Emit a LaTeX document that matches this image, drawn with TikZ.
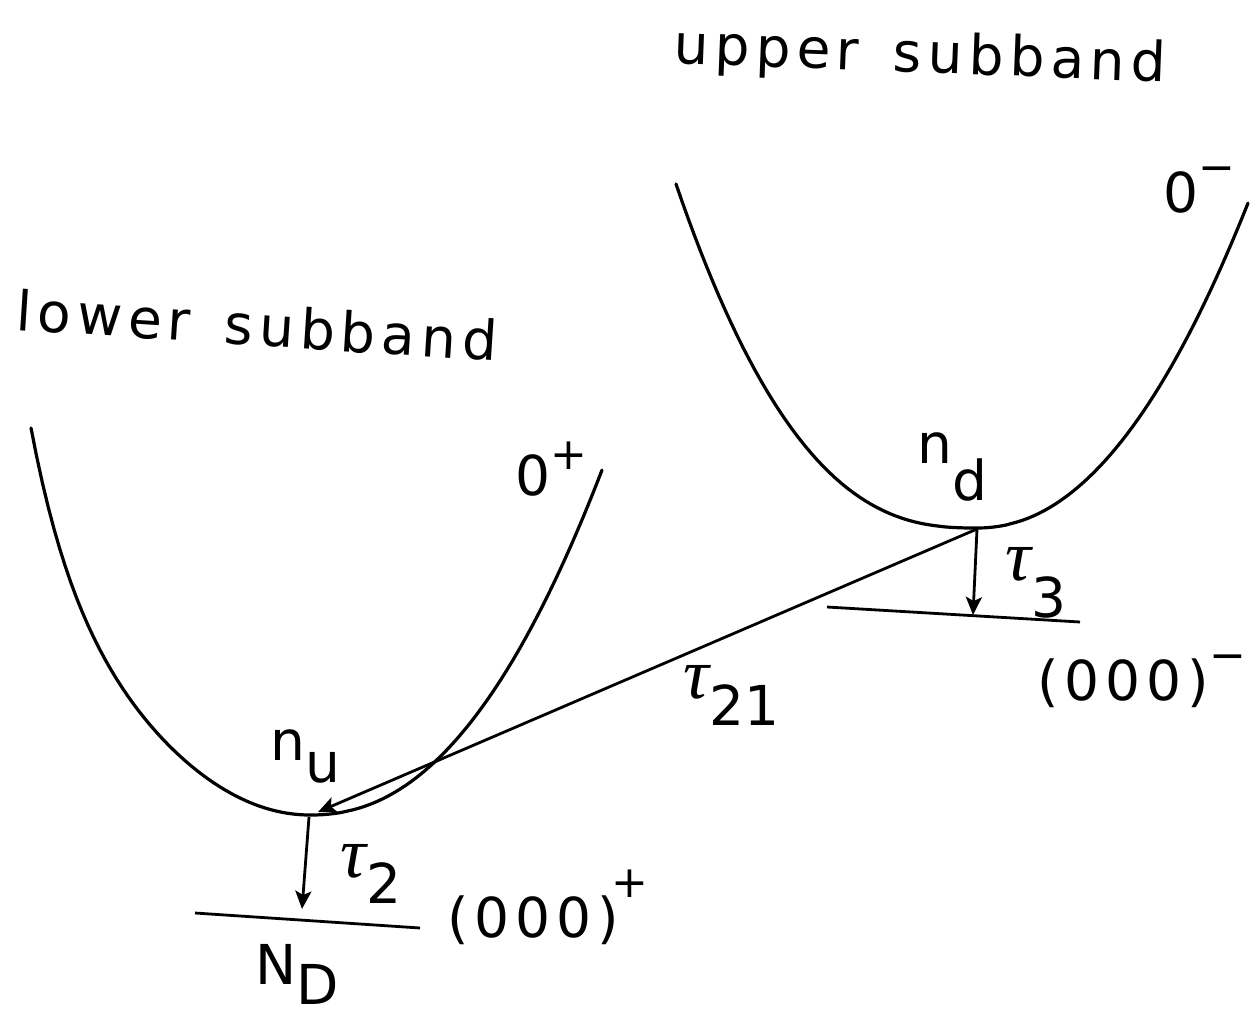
\documentclass[tikz,border=0pt]{standalone}
\usepackage{fontspec}
\setmainfont{DejaVu Sans}[LetterSpace=11, WordSpace=1.45]
\newfontfamily\taufont{Liberation Serif}
\usetikzlibrary{arrows.meta}
\newcommand\tauc{{\taufont\fontsize{36}{36}\selectfont\itshape τ}}
\newcommand\dnb[2]{\raisebox{-#1}{#2}}
\newcommand\upb[2]{\raisebox{#1}{\fontsize{22}{22}\selectfont #2}}
\tikzset{
  lab/.style={inner sep=0pt, anchor=base west, font=\fontsize{27.5}{30}\selectfont},
  curve/.style={line width=1.6pt, line cap=round, line join=round},
  bar/.style={line width=1.4pt},
  arr/.style={line width=1.4pt, -{Stealth[length=9pt,width=8pt,inset=2pt]}}
}
\begin{document}
\begin{tikzpicture}[x=0.5pt,y=-0.5pt]
\useasboundingbox (0,0) rectangle (1252,1017);
% lower subband curve (vertex at 310,815)
\draw[curve] plot[domain=1:0, samples=50] ({310-279*\x},{815-270*\x*\x-117*\x^8})
  -- plot[domain=0.004:1, samples=50] ({310+292*\x},{815-345*pow(\x,2.2)});
% upper subband curve (vertex at 977,528)
\draw[curve] plot[domain=1:0.004, samples=50] ({977-301*\x},{528-344*pow(\x,2.56)})
  -- plot[domain=0.004:1, samples=50] ({977+271*\x},{528-325*pow(\x,2.1)});
% key points
\coordinate (umin) at (977,529);
\coordinate (lmin) at (318,812);
\coordinate (lstart) at (309,817);
\coordinate (lhit) at (302,909);
\coordinate (uhit) at (973,615);
\coordinate (lb1) at (195,913);
\coordinate (lb2) at (420,928);
\coordinate (ub1) at (827,607);
\coordinate (ub2) at (1080,622);
% levels
\draw[bar] (lb1) -- (lb2);
\draw[bar] (ub1) -- (ub2);
% transitions
\draw[arr] (umin) -- (lmin);
\draw[arr] (lstart) -- (lhit);
\draw[arr] (umin) -- (uhit);
% labels
\node[lab, rotate=-2.2] (upper) at (673,63) {upper subband};
\node[lab, rotate=-3.7] (lower) at (15,330) {lower subband};
\node[lab] (zp) at (515,495) {0\upb{13pt}{+}};
\node[lab] (zm) at (1163,212) {0\upb{15pt}{−}};
\node[lab] (nd) at (917,463) {n\dnb{18.5pt}{d}};
\node[lab] (t3) at (1005,580) {\tauc\dnb{18.5pt}{3}};
\node[lab] (ocm) at (1037,700) {(000)\upb{15pt}{−}};
\node[lab] (t21) at (683,698) {\tauc\dnb{13.5pt}{\addfontfeature{LetterSpace=0}21}};
\node[lab] (nu) at (270,760) {n\dnb{11pt}{u}};
\node[lab] (t2) at (340,877) {\tauc\dnb{13pt}{2}};
\node[lab] (ocp) at (447,937) {(000)\kern-4pt\upb{20pt}{+}};
\node[lab] (ND) at (255,984) {N\dnb{10pt}{D}};
\end{tikzpicture}
\end{document}
